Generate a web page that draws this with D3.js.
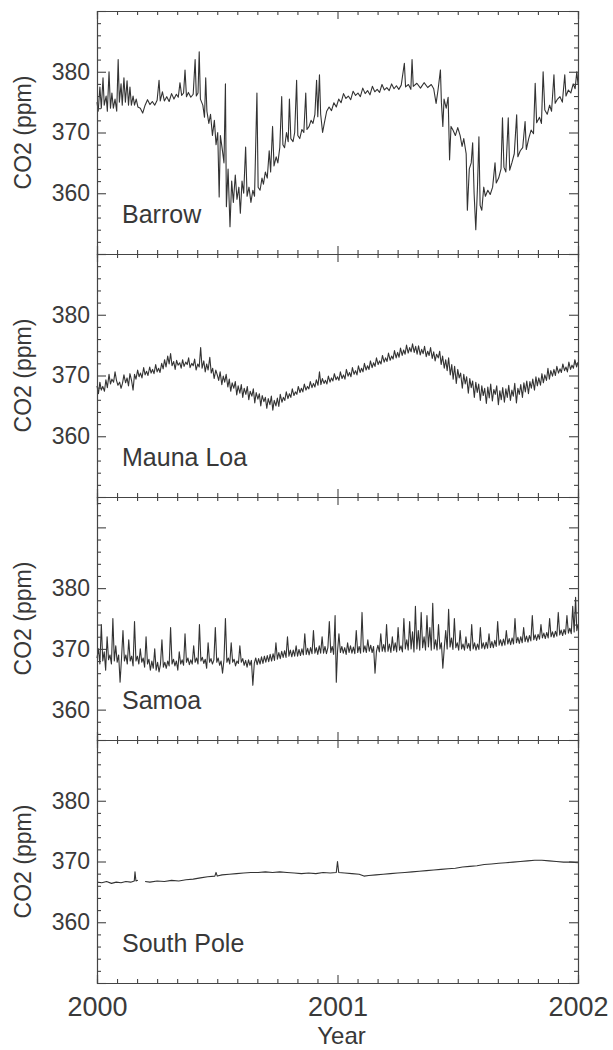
<!DOCTYPE html>
<html>
<head>
<meta charset="utf-8">
<script src="https://cdn.jsdelivr.net/npm/d3@7/dist/d3.min.js"></script>
<style>
  html, body { margin: 0; padding: 0; background: #fff; }
  svg text { font-family: "Liberation Sans", Arial, Helvetica, sans-serif; fill: #383838; }
</style>
</head>
<body>
<svg id="chart" width="613" height="1050"></svg>
<script>
// ---------------- DATA (decimal year, CO2 ppm) ----------------
const barrow = [
[2000.000,375],[2000.005,373.5],[2000.012,377.5],[2000.018,374],[2000.025,379],[2000.030,374.5],[2000.038,376],[2000.043,373.5],
[2000.050,380],[2000.056,374],[2000.062,376.5],[2000.068,374],[2000.075,375.5],[2000.082,373.5],[2000.088,382],[2000.093,375],
[2000.100,378],[2000.105,374.5],[2000.112,379],[2000.118,375],[2000.125,378.5],[2000.131,374.5],[2000.137,377.5],[2000.143,374.5],
[2000.150,376],[2000.156,374.5],[2000.163,375.5],[2000.170,374.2],[2000.180,374],[2000.190,373.2],[2000.200,374.5],[2000.210,375.4],
[2000.220,374.6],[2000.230,375.1],[2000.240,374.5],[2000.250,375.3],[2000.258,378.6],[2000.263,375.2],[2000.272,376.7],[2000.280,375.2],
[2000.290,375.9],[2000.300,375.1],[2000.310,376.4],[2000.320,375.5],[2000.330,376.3],[2000.338,375.8],[2000.345,378.2],[2000.352,376.1],
[2000.360,376.5],[2000.366,380.3],[2000.372,375.9],[2000.380,376.6],[2000.390,375.8],[2000.400,376.3],[2000.408,382],[2000.413,376],
[2000.420,376.5],[2000.425,383.3],[2000.430,375.5],[2000.440,374.5],[2000.447,372.5],[2000.452,379],[2000.457,373.5],[2000.465,371.5],
[2000.472,373],[2000.480,369.5],[2000.488,372],[2000.495,368],[2000.502,370],[2000.508,359.4],[2000.513,369.5],[2000.520,367.5],
[2000.528,365],[2000.534,378],[2000.538,357.8],[2000.545,364],[2000.553,354.5],[2000.560,362],[2000.567,358.5],[2000.575,363],
[2000.582,359],[2000.590,361],[2000.596,356.7],[2000.603,362],[2000.610,360],[2000.618,367.6],[2000.624,359.5],[2000.632,361],
[2000.640,358.5],[2000.648,360.5],[2000.655,359.5],[2000.665,376.5],[2000.670,361],[2000.678,360.5],[2000.686,362.5],[2000.692,361.5],
[2000.700,363.5],[2000.708,362.5],[2000.716,367],[2000.722,363.5],[2000.730,371],[2000.736,364.5],[2000.745,366],[2000.752,365],
[2000.760,367.5],[2000.768,375.9],[2000.773,368],[2000.780,367.5],[2000.788,370],[2000.795,368.5],[2000.800,375.5],[2000.806,369],
[2000.815,368.5],[2000.822,370],[2000.830,378.6],[2000.835,369.5],[2000.843,369],[2000.852,370.5],[2000.860,370],[2000.868,376.5],
[2000.873,370.5],[2000.882,371],[2000.890,372],[2000.898,371.5],[2000.906,373],[2000.913,378.6],[2000.918,372.6],[2000.925,379.5],
[2000.930,373],[2000.938,370],[2000.945,371.5],[2000.955,373.5],[2000.965,374.2],[2000.975,373.6],[2000.985,374.9],[2000.995,374.2],
[2001.005,375.5],[2001.015,374.9],[2001.025,376.4],[2001.035,375.6],[2001.045,376.0],[2001.055,375.4],[2001.065,376.8],[2001.075,376.1],
[2001.085,376.5],[2001.095,375.9],[2001.105,377.3],[2001.115,376.4],[2001.125,376.9],[2001.135,376.2],[2001.145,377.6],[2001.155,376.7],
[2001.165,377.1],[2001.175,376.6],[2001.185,377.9],[2001.195,377.0],[2001.205,377.4],[2001.215,376.9],[2001.225,378.0],[2001.235,377.2],
[2001.245,377.7],[2001.255,377.1],[2001.265,377.8],[2001.278,381.4],[2001.283,377.5],[2001.295,377.9],[2001.305,377.1],[2001.310,382],
[2001.315,377.6],[2001.330,378.1],[2001.345,377.3],[2001.360,378.2],[2001.375,377.4],[2001.390,377.9],[2001.400,377.2],[2001.410,374.8],
[2001.418,377],[2001.428,380.3],[2001.432,375],[2001.438,371],[2001.443,375.5],[2001.452,374],[2001.460,375.8],[2001.466,365.5],
[2001.472,371],[2001.480,370.4],[2001.490,369.5],[2001.500,370.8],[2001.510,369.5],[2001.518,367.7],[2001.525,369],[2001.535,366.5],
[2001.540,357.2],[2001.548,364],[2001.556,365],[2001.562,368.3],[2001.568,360],[2001.575,354],[2001.582,361],[2001.588,369.3],
[2001.593,358],[2001.600,357.2],[2001.608,361],[2001.615,359.5],[2001.625,360.5],[2001.635,359.8],[2001.645,361],[2001.655,365],
[2001.660,361.7],[2001.670,362.5],[2001.680,364],[2001.686,372.4],[2001.692,364.3],[2001.700,363.5],[2001.710,372.4],[2001.716,363.8],
[2001.725,365],[2001.735,366.5],[2001.745,372.9],[2001.750,366],[2001.760,367],[2001.770,367.5],[2001.780,371.8],[2001.785,367.2],
[2001.795,369],[2001.805,370.4],[2001.815,369.8],[2001.822,378.1],[2001.828,371.6],[2001.840,372.5],[2001.848,371.5],[2001.855,380],
[2001.862,373.7],[2001.872,373],[2001.882,374.5],[2001.890,373.5],[2001.900,379.5],[2001.905,374.8],[2001.915,375.5],[2001.925,375.9],
[2001.935,375],[2001.945,379.5],[2001.950,376],[2001.960,377],[2001.970,376.5],[2001.980,378],[2001.988,377.2],[2001.995,380],[2002.000,378]
];

const maunaLoa = [
[2000.000,368.3],[2000.006,367.0],[2000.012,368.9],[2000.018,367.6],[2000.024,368.2],[2000.031,367.4],[2000.037,369.3],[2000.043,368.0],
[2000.050,370.2],[2000.056,368.6],[2000.062,369.4],[2000.069,368.9],[2000.075,370.6],[2000.081,369.2],[2000.087,368.4],[2000.094,368.9],
[2000.100,367.9],[2000.106,368.7],[2000.112,370.1],[2000.119,368.8],[2000.125,369.6],[2000.131,368.3],[2000.137,370.3],[2000.144,369.1],
[2000.150,367.6],[2000.156,370.2],[2000.162,369.4],[2000.169,370.9],[2000.175,369.8],[2000.181,370.4],[2000.187,369.6],[2000.194,371.3],
[2000.200,370.1],[2000.206,370.7],[2000.212,370.0],[2000.219,371.4],[2000.225,370.4],[2000.231,371.0],[2000.237,370.3],[2000.244,371.8],
[2000.250,370.6],[2000.256,371.2],[2000.262,370.5],[2000.269,372.0],[2000.275,371.1],[2000.281,372.6],[2000.287,371.4],[2000.294,373.2],
[2000.300,371.9],[2000.306,373.6],[2000.312,371.6],[2000.319,372.3],[2000.325,371.0],[2000.331,372.5],[2000.337,371.7],[2000.344,372.1],
[2000.350,371.2],[2000.356,372.6],[2000.362,371.5],[2000.369,372.2],[2000.375,371.8],[2000.381,372.9],[2000.387,371.3],[2000.394,372.0],
[2000.400,371.6],[2000.406,372.7],[2000.412,370.9],[2000.419,371.9],[2000.425,371.4],[2000.431,374.6],[2000.437,371.2],[2000.444,372.4],
[2000.450,370.6],[2000.456,371.9],[2000.462,370.9],[2000.469,373.0],[2000.475,370.4],[2000.481,371.2],[2000.487,369.5],[2000.494,370.9],
[2000.500,370.1],[2000.506,369.2],[2000.512,370.6],[2000.519,368.5],[2000.525,369.9],[2000.531,368.9],[2000.537,370.2],[2000.544,368.1],
[2000.550,369.4],[2000.556,367.4],[2000.562,368.8],[2000.569,367.9],[2000.575,369.0],[2000.581,366.8],[2000.587,368.3],[2000.594,367.1],
[2000.600,368.5],[2000.606,366.4],[2000.612,367.9],[2000.619,366.9],[2000.625,368.2],[2000.631,366.0],[2000.637,367.4],[2000.644,366.6],
[2000.650,367.8],[2000.656,365.5],[2000.662,367.2],[2000.669,366.1],[2000.675,367.0],[2000.681,365.0],[2000.687,366.7],[2000.694,365.7],
[2000.700,366.4],[2000.706,364.6],[2000.712,366.2],[2000.719,365.2],[2000.725,366.6],[2000.731,364.3],[2000.737,365.9],[2000.744,365.0],
[2000.750,366.3],[2000.756,364.9],[2000.762,366.9],[2000.769,365.6],[2000.775,366.4],[2000.781,365.9],[2000.787,367.3],[2000.794,366.2],
[2000.800,367.0],[2000.806,366.4],[2000.812,367.8],[2000.819,366.7],[2000.825,367.3],[2000.831,366.9],[2000.837,368.2],[2000.844,367.2],
[2000.850,367.9],[2000.856,367.3],[2000.862,368.6],[2000.869,367.6],[2000.875,368.2],[2000.881,367.8],[2000.887,369.0],[2000.894,368.0],
[2000.900,368.7],[2000.906,368.1],[2000.912,369.3],[2000.919,368.4],[2000.925,370.6],[2000.931,368.5],[2000.937,369.5],[2000.944,368.7],
[2000.950,369.2],[2000.956,368.6],[2000.962,369.9],[2000.969,368.9],[2000.975,369.6],[2000.981,369.1],[2000.987,370.3],[2000.994,369.3],
[2001.000,369.8],[2001.006,369.2],[2001.012,370.6],[2001.019,369.5],[2001.025,370.1],[2001.031,369.4],[2001.037,371.0],[2001.044,369.9],
[2001.050,370.5],[2001.056,369.8],[2001.062,371.3],[2001.069,370.2],[2001.075,370.8],[2001.081,370.1],[2001.087,371.6],[2001.094,370.5],
[2001.100,371.2],[2001.106,370.6],[2001.112,372.0],[2001.119,370.9],[2001.125,371.6],[2001.131,371.0],[2001.137,372.4],[2001.144,371.3],
[2001.150,372.1],[2001.156,371.5],[2001.162,372.9],[2001.169,371.8],[2001.175,372.4],[2001.181,371.9],[2001.187,373.3],[2001.194,372.2],
[2001.200,372.9],[2001.206,372.3],[2001.212,373.7],[2001.219,372.5],[2001.225,373.2],[2001.231,372.7],[2001.237,374.1],[2001.244,372.9],
[2001.250,373.8],[2001.256,373.0],[2001.262,374.5],[2001.269,373.3],[2001.275,374.2],[2001.281,373.5],[2001.287,375.0],[2001.294,373.7],
[2001.300,374.6],[2001.306,373.9],[2001.312,375.2],[2001.319,373.8],[2001.325,374.8],[2001.331,373.5],[2001.337,374.9],[2001.344,373.4],
[2001.350,374.3],[2001.356,373.6],[2001.362,374.8],[2001.369,373.1],[2001.375,374.0],[2001.381,373.3],[2001.387,374.6],[2001.394,372.8],
[2001.400,373.9],[2001.406,372.4],[2001.412,373.5],[2001.419,372.9],[2001.425,374.0],[2001.431,371.8],[2001.437,373.2],[2001.444,371.2],
[2001.450,372.6],[2001.456,370.8],[2001.462,372.9],[2001.469,370.1],[2001.475,371.8],[2001.481,369.4],[2001.487,371.5],[2001.494,368.7],
[2001.500,371.0],[2001.506,369.6],[2001.512,370.4],[2001.519,367.9],[2001.525,370.2],[2001.531,368.6],[2001.537,369.8],[2001.544,367.1],
[2001.550,369.5],[2001.556,368.0],[2001.562,369.1],[2001.569,366.4],[2001.575,368.9],[2001.581,367.2],[2001.587,368.6],[2001.594,365.9],
[2001.600,368.3],[2001.606,366.7],[2001.612,367.9],[2001.619,365.4],[2001.625,368.1],[2001.631,366.3],[2001.637,368.6],[2001.644,365.8],
[2001.650,367.7],[2001.656,366.9],[2001.662,368.3],[2001.669,365.2],[2001.675,367.5],[2001.681,366.0],[2001.687,368.0],[2001.694,365.6],
[2001.700,367.8],[2001.706,366.4],[2001.712,368.4],[2001.719,365.9],[2001.725,367.6],[2001.731,366.6],[2001.737,368.7],[2001.744,365.5],
[2001.750,367.9],[2001.756,366.9],[2001.762,368.5],[2001.769,366.4],[2001.775,368.8],[2001.781,367.3],[2001.787,369.1],[2001.794,367.0],
[2001.800,369.0],[2001.806,367.9],[2001.812,369.4],[2001.819,367.6],[2001.825,369.8],[2001.831,368.3],[2001.837,369.6],[2001.844,368.4],
[2001.850,370.3],[2001.856,368.8],[2001.862,370.1],[2001.869,369.2],[2001.875,371.2],[2001.881,369.4],[2001.887,370.8],[2001.894,369.9],
[2001.900,371.0],[2001.906,370.0],[2001.912,371.5],[2001.919,370.4],[2001.925,371.1],[2001.931,370.5],[2001.937,371.9],[2001.944,370.8],
[2001.950,371.4],[2001.956,370.6],[2001.962,372.2],[2001.969,371.0],[2001.975,371.7],[2001.981,371.2],[2001.987,372.6],[2001.994,371.4],
[2002.000,372.2]
];

const samoa = [
[2000.000,368.5],[2000.006,370],[2000.012,367.5],[2000.018,374],[2000.024,368],[2000.030,369.5],[2000.036,366.5],[2000.042,372],
[2000.048,368.2],[2000.054,369],[2000.060,367.5],[2000.066,375],[2000.072,368],[2000.078,370.5],[2000.084,367.8],[2000.090,369],
[2000.096,364.5],[2000.102,368.5],[2000.108,373],[2000.114,368],[2000.120,369],[2000.126,367.5],[2000.132,371.5],[2000.138,368],
[2000.144,368.8],[2000.150,367.2],[2000.156,374.5],[2000.162,368],[2000.168,368.8],[2000.174,367.5],[2000.180,370],[2000.186,367.8],
[2000.192,368.5],[2000.198,367],[2000.204,372],[2000.210,367.5],[2000.216,368.3],[2000.222,366.5],[2000.228,368],[2000.234,366.8],
[2000.240,370],[2000.246,366.5],[2000.252,367.8],[2000.258,366.2],[2000.264,367.5],[2000.270,371.5],[2000.276,367],[2000.282,367.8],
[2000.288,366.8],[2000.294,368],[2000.300,367.2],[2000.306,373.5],[2000.312,367.5],[2000.318,368.3],[2000.324,367.2],[2000.330,368],
[2000.336,366.5],[2000.342,369.5],[2000.348,367.5],[2000.354,368.2],[2000.360,367.3],[2000.366,372.5],[2000.372,367.8],[2000.378,368.5],
[2000.384,367.4],[2000.390,368.2],[2000.396,367.5],[2000.402,370.5],[2000.408,367.8],[2000.414,368.5],[2000.420,367.5],[2000.426,374],
[2000.432,368],[2000.438,368.6],[2000.444,367.6],[2000.450,368.3],[2000.456,366.8],[2000.462,371],[2000.468,367.8],[2000.474,368.4],
[2000.480,367.5],[2000.486,368.2],[2000.492,373.5],[2000.498,367.8],[2000.504,368.5],[2000.510,367.3],[2000.516,368],[2000.522,366],
[2000.528,368.2],[2000.534,375],[2000.540,367.8],[2000.546,368.5],[2000.552,367.5],[2000.558,371],[2000.564,367.8],[2000.570,368.3],
[2000.576,367.2],[2000.582,368],[2000.588,367.6],[2000.594,370.5],[2000.600,367.8],[2000.606,368.4],[2000.612,367.3],[2000.618,368.1],
[2000.624,367.0],[2000.630,368.2],[2000.636,367.3],[2000.642,368.1],[2000.648,364],[2000.654,367.6],[2000.660,368.5],[2000.666,367.4],
[2000.672,368.4],[2000.678,367.5],[2000.684,368.7],[2000.690,367.6],[2000.696,368.8],[2000.702,367.8],[2000.708,368.9],[2000.714,367.9],
[2000.720,369.1],[2000.726,368.0],[2000.732,369.2],[2000.738,368.1],[2000.744,371],[2000.750,368.3],[2000.756,369.4],[2000.762,368.4],
[2000.768,369.6],[2000.774,368.6],[2000.780,369.7],[2000.786,368.6],[2000.792,372],[2000.798,368.8],[2000.804,369.8],[2000.810,368.7],
[2000.816,369.8],[2000.822,368.8],[2000.828,370.5],[2000.834,368.8],[2000.840,369.9],[2000.846,368.9],[2000.852,370.0],[2000.858,369.0],
[2000.864,372.5],[2000.870,369.1],[2000.876,370.1],[2000.882,369.0],[2000.888,370.2],[2000.894,369.2],[2000.900,373],[2000.906,369.3],
[2000.912,370.2],[2000.918,369.1],[2000.924,370.5],[2000.930,369.3],[2000.936,372],[2000.942,369.3],[2000.948,370.4],[2000.954,369.2],
[2000.960,370.2],[2000.966,374.5],[2000.972,369.4],[2000.978,370.4],[2000.984,369.1],[2000.990,375.5],[2000.995,364.5],[2001.000,369.5],
[2001.006,372.5],[2001.012,369.4],[2001.018,370.4],[2001.024,369.3],[2001.030,370.2],[2001.036,369.1],[2001.042,371],[2001.048,369.4],
[2001.054,370.5],[2001.060,369.3],[2001.066,370.3],[2001.072,369.2],[2001.078,373],[2001.084,369.4],[2001.090,370.4],[2001.096,369.3],
[2001.102,376],[2001.108,369.5],[2001.114,370.5],[2001.120,369.4],[2001.126,371.5],[2001.132,369.6],[2001.138,370.6],[2001.144,369.4],
[2001.150,370.4],[2001.156,366],[2001.162,369.6],[2001.168,370.6],[2001.174,369.5],[2001.180,372.5],[2001.186,369.6],[2001.192,370.7],
[2001.198,369.5],[2001.204,374],[2001.210,369.6],[2001.216,370.8],[2001.222,369.4],[2001.228,372],[2001.234,369.7],[2001.240,371],
[2001.246,369.5],[2001.252,373.5],[2001.258,369.8],[2001.264,370.5],[2001.270,369.5],[2001.276,375],[2001.282,370],[2001.288,371.5],
[2001.294,369.8],[2001.300,374.5],[2001.306,370],[2001.312,372.8],[2001.318,369.5],[2001.324,377],[2001.330,370],[2001.336,373],
[2001.342,369.8],[2001.348,376],[2001.354,370.2],[2001.360,372],[2001.366,369.8],[2001.372,375.5],[2001.378,370.3],[2001.384,373.5],
[2001.390,369.8],[2001.396,377.5],[2001.402,370],[2001.408,371.5],[2001.414,369.8],[2001.420,374],[2001.426,370],[2001.432,371],
[2001.438,366.8],[2001.444,370.2],[2001.450,373],[2001.456,370],[2001.462,376.5],[2001.468,370.3],[2001.474,371.8],[2001.480,369.9],
[2001.486,375],[2001.492,370.2],[2001.498,371],[2001.504,369.8],[2001.510,373],[2001.516,370],[2001.522,370.8],[2001.528,369.8],
[2001.534,372],[2001.540,370.1],[2001.546,370.9],[2001.552,369.7],[2001.558,374],[2001.564,370.0],[2001.570,371.0],[2001.576,369.8],
[2001.582,370.8],[2001.588,369.9],[2001.594,373.5],[2001.600,370.1],[2001.606,371.0],[2001.612,370.0],[2001.618,371.1],[2001.624,370.1],
[2001.630,372.5],[2001.636,370.2],[2001.642,371.2],[2001.648,370.2],[2001.654,371.4],[2001.660,370.4],[2001.666,374.5],[2001.672,370.6],
[2001.678,371.5],[2001.684,370.5],[2001.690,371.6],[2001.696,370.6],[2001.702,373],[2001.708,370.8],[2001.714,371.7],[2001.720,370.7],
[2001.726,371.8],[2001.732,370.8],[2001.738,375],[2001.744,371.0],[2001.750,371.9],[2001.756,370.9],[2001.762,372.0],[2001.768,371.0],
[2001.774,373.5],[2001.780,371.2],[2001.786,372.1],[2001.792,371.1],[2001.798,372.2],[2001.804,371.3],[2001.810,375.5],[2001.816,371.5],
[2001.822,372.3],[2001.828,371.4],[2001.834,372.4],[2001.840,371.6],[2001.846,374],[2001.852,371.8],[2001.858,372.6],[2001.864,371.7],
[2001.870,372.7],[2001.876,371.8],[2001.882,375],[2001.888,372.0],[2001.894,372.8],[2001.900,371.9],[2001.906,372.9],[2001.912,372.1],
[2001.918,376],[2001.924,372.3],[2001.930,373.1],[2001.936,372.2],[2001.942,373.2],[2001.948,372.4],[2001.954,375.5],[2001.960,372.6],
[2001.966,373.4],[2001.972,372.5],[2001.978,377],[2001.984,372.8],[2001.990,378.5],[2001.995,373.0],[2002.000,374]
];

const southPole = [
[2000.000,366.6],[2000.020,366.5],[2000.040,366.7],[2000.060,366.4],[2000.080,366.6],[2000.100,366.5],[2000.120,366.7],[2000.140,366.6],
[2000.155,366.8],[2000.158,368.3],[2000.162,366.8],[2000.170,366.9],[2000.175,null],
[2000.200,366.7],[2000.220,366.6],[2000.250,366.8],[2000.280,366.7],[2000.310,366.9],[2000.340,366.8],[2000.370,367.0],[2000.400,367.1],
[2000.430,367.3],[2000.460,367.5],[2000.490,367.6],[2000.495,368.2],[2000.500,367.6],[2000.520,367.8],[2000.550,367.9],[2000.580,368.0],
[2000.610,368.1],[2000.640,368.2],[2000.670,368.2],[2000.700,368.3],[2000.730,368.2],[2000.760,368.3],[2000.790,368.2],[2000.820,368.1],
[2000.850,368.0],[2000.880,368.1],[2000.910,368.0],[2000.940,368.2],[2000.970,368.1],[2000.995,368.2],[2001.000,370.0],[2001.005,368.2],
[2001.030,368.1],[2001.060,368.0],[2001.090,367.9],[2001.110,367.6],[2001.130,367.7],[2001.160,367.8],[2001.190,367.9],[2001.220,368.0],
[2001.250,368.1],[2001.280,368.2],[2001.310,368.3],[2001.340,368.4],[2001.370,368.5],[2001.400,368.6],[2001.430,368.7],[2001.460,368.8],
[2001.490,368.9],[2001.520,369.1],[2001.550,369.2],[2001.580,369.3],[2001.610,369.5],[2001.640,369.6],[2001.670,369.7],[2001.700,369.8],
[2001.730,369.9],[2001.760,370.0],[2001.790,370.1],[2001.820,370.2],[2001.850,370.2],[2001.880,370.1],[2001.910,370.0],[2001.940,369.9],
[2001.970,369.9],[2002.000,369.8]
];

const stationNames = ["Barrow", "Mauna Loa", "Samoa", "South Pole"];
const stationSeries = [barrow, maunaLoa, samoa, southPole];
const yDomains = [[350, 390], [350, 390], [355, 395], [350, 390]];
const yTickLabels = [360, 370, 380];
const xTickLabels = [2000, 2001, 2002];
const xTitle = "Year";
const yTitle = "CO2 (ppm)";

// ---------------- LAYOUT ----------------
const plotLeft = 97, plotRight = 578, plotTop = 11, panelH = 243;
const svg = d3.select("#chart");
const ink = "#3a3a3a";

const x = d3.scaleLinear().domain([2000, 2002]).range([plotLeft, plotRight]);
const monthTicks = d3.range(0, 25).map(i => 2000 + i / 12);

stationNames.forEach((name, i) => {
  const y0 = plotTop + i * panelH;
  const y = d3.scaleLinear().domain(yDomains[i]).range([y0 + panelH, y0]);
  const g = svg.append("g");

  const line = d3.line()
    .defined(d => d[1] !== null)
    .x(d => x(d[0]))
    .y(d => y(d[1]));
  g.append("path")
    .datum(stationSeries[i])
    .attr("fill", "none")
    .attr("stroke", "#333")
    .attr("stroke-width", 1.1)
    .attr("stroke-linejoin", "round")
    .attr("d", line);

  const minorY = y.ticks(20).filter(v => v % 10 !== 0);
  const majorY = y.ticks(20).filter(v => v % 10 === 0);

  g.append("g").attr("transform", `translate(${plotLeft},0)`)
    .call(d3.axisLeft(y).tickValues(minorY).tickSize(-4).tickFormat(""));
  g.append("g").attr("transform", `translate(${plotLeft},0)`)
    .call(d3.axisLeft(y).tickValues(majorY).tickSize(-9).tickFormat(""));
  const lab = g.append("g").attr("transform", `translate(${plotLeft},0)`)
    .call(d3.axisLeft(y).tickValues(yTickLabels).tickSize(0).tickPadding(7).tickFormat(d3.format("d")));
  lab.select(".domain").remove();
  lab.selectAll("text").attr("font-size", 23).attr("font-family", null).style("fill", ink);

  g.append("g").attr("transform", `translate(${plotRight},0)`)
    .call(d3.axisRight(y).tickValues(minorY).tickSize(-4).tickFormat(""));
  g.append("g").attr("transform", `translate(${plotRight},0)`)
    .call(d3.axisRight(y).tickValues(majorY).tickSize(-9).tickFormat(""));

  const xMinor = monthTicks.filter(t => Math.abs(t - Math.round(t)) > 1e-6);
  const xMajor = monthTicks.filter(t => Math.abs(t - Math.round(t)) < 1e-6);
  [[d3.axisTop, y0], [d3.axisBottom, y0 + panelH]].forEach(([ax, pos]) => {
    g.append("g").attr("transform", `translate(0,${pos})`)
      .call(ax(x).tickValues(xMinor).tickSize(-4).tickFormat(""));
    g.append("g").attr("transform", `translate(0,${pos})`)
      .call(ax(x).tickValues(xMajor).tickSize(-8).tickFormat(""));
  });

  svg.append("text")
    .attr("transform", `translate(31,${y0 + panelH / 2}) rotate(-90)`)
    .attr("text-anchor", "middle")
    .attr("font-size", 23)
    .text(yTitle);

  svg.append("text")
    .attr("x", 122)
    .attr("y", y0 + panelH - 31)
    .attr("font-size", 25)
    .text(name);
});

svg.selectAll(".domain, .tick line").attr("stroke", "#444").attr("stroke-width", 1.1);

const xl = svg.append("g").attr("transform", `translate(0,${plotTop + 4 * panelH})`)
  .call(d3.axisBottom(x).tickValues(xTickLabels).tickSize(0).tickPadding(14).tickFormat(d3.format("d")));
xl.select(".domain").remove();
xl.selectAll("text").attr("font-size", 27).attr("font-family", null).style("fill", ink);

svg.append("text")
  .attr("x", (plotLeft + plotRight) / 2 + 4)
  .attr("y", 1044)
  .attr("text-anchor", "middle")
  .attr("font-size", 24)
  .text(xTitle);
</script>
</body>
</html>
